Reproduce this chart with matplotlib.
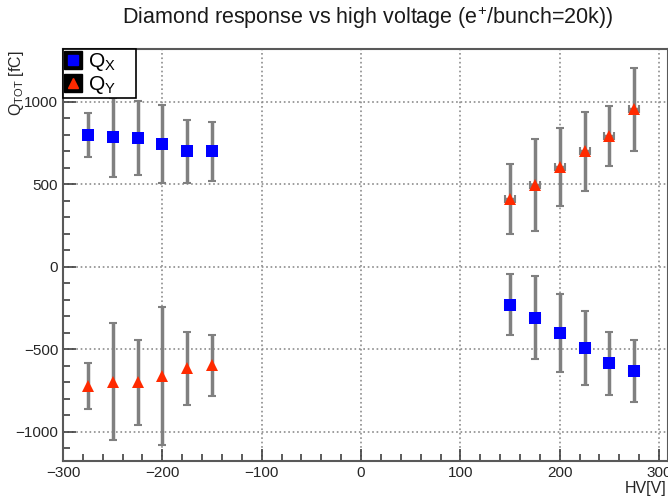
import matplotlib.pyplot as plt
from matplotlib.lines import Line2D
from matplotlib.legend_handler import HandlerTuple
from matplotlib.ticker import MultipleLocator

plt.rcParams['font.family'] = ['Liberation Sans', 'DejaVu Sans']
plt.rcParams['mathtext.fontset'] = 'custom'
plt.rcParams['mathtext.rm'] = 'Liberation Sans'

# negative HV branch
hv_neg = [-275, -250, -225, -200, -175, -150]
qx_neg = [800, 785, 780, 745, 700, 700]
qx_neg_err = [135, 238, 225, 235, 190, 180]
qy_neg = [-720, -695, -700, -660, -615, -595]
qy_neg_err = [140, 355, 260, 420, 220, 185]

# positive HV branch
hv_pos = [150, 175, 200, 225, 250, 275]
hv_pos_err = [5, 5, 5, 5, 5, 5]
qx_pos = [-228, -307, -400, -493, -585, -632]
qx_pos_err = [183, 250, 235, 224, 193, 188]
qy_pos = [410, 497, 608, 700, 792, 955]
qy_pos_err = [212, 279, 237, 240, 182, 250]


def draw(ax, x, y, yerr, color, marker, size, xerr=None):
    line, caps, bars = ax.errorbar(x, y, yerr=yerr, xerr=xerr, fmt='none',
                                   ecolor='0.5', elinewidth=2.5,
                                   capsize=3, capthick=1.5, zorder=2)
    for c in caps:
        c.set_color('0.2')
    ax.plot(x, y, linestyle='none', marker=marker, ms=size,
            color=color, markeredgewidth=0, zorder=3)


fig = plt.figure(figsize=(6.68, 5.01), dpi=100)
ax = fig.add_axes([63 / 668, 40 / 501, 1 - 63 / 668, 412 / 501])

draw(ax, hv_neg, qx_neg, qx_neg_err, '#0000ff', 's', 9)
draw(ax, hv_neg, qy_neg, qy_neg_err, '#ff2a00', '^', 8.5)
draw(ax, hv_pos, qx_pos, qx_pos_err, '#0000ff', 's', 9, xerr=hv_pos_err)
draw(ax, hv_pos, qy_pos, qy_pos_err, '#ff2a00', '^', 8.5, xerr=hv_pos_err)

ax.set_xlim(-300, 309)
ax.set_ylim(-1176, 1321)
ax.xaxis.set_major_locator(MultipleLocator(100))
ax.xaxis.set_minor_locator(MultipleLocator(20))
ax.yaxis.set_major_locator(MultipleLocator(500))
ax.yaxis.set_minor_locator(MultipleLocator(100))
ax.tick_params(which='both', direction='in', colors='0.25', labelcolor='0.15',
               labelsize=11, top=False, right=False)
ax.tick_params(which='major', length=9, width=1.2)
ax.tick_params(which='minor', length=5, width=1.2)
ax.grid(True, which='major', linestyle=':', color='0.55', linewidth=1.2)
for s in ax.spines.values():
    s.set_color('0.35')
    s.set_linewidth(1.5)

fig.text(368 / 668, 1 - 18 / 501,
         'Diamond response vs high voltage (e$^{+}$/bunch=20k))',
         ha='center', va='center', fontsize=15.5, color='0.1')
fig.text(16 / 668, 1 - 50 / 501, r'Q$_\mathrm{TOT}$ [fC]', rotation=90,
         ha='center', va='top', fontsize=11.5, color='0.15')
fig.text(666 / 668, 1 - 488 / 501, 'HV[V]', ha='right', va='center',
         fontsize=11.5, color='0.15')

hx = (Line2D([], [], ls='none', marker='s', ms=13, color='black'),
      Line2D([], [], ls='none', marker='s', ms=7, color='#0000ff'))
hy = (Line2D([], [], ls='none', marker='s', ms=13, color='black'),
      Line2D([], [], ls='none', marker='^', ms=7, color='#ff2a00'))
leg = ax.legend([hx, hy], [r'Q$_\mathrm{X}$    ', r'Q$_\mathrm{Y}$    '],
                loc='upper left',
                bbox_to_anchor=(0, 1), borderaxespad=0, fancybox=False,
                framealpha=1, edgecolor='black', fontsize=15,
                handler_map={tuple: HandlerTuple(ndivide=1, pad=0)},
                handlelength=0.8, handletextpad=0.3, borderpad=0.1,
                labelspacing=0.05)
leg.get_frame().set_linewidth(1.2)

fig.savefig('out.png', dpi=100)
